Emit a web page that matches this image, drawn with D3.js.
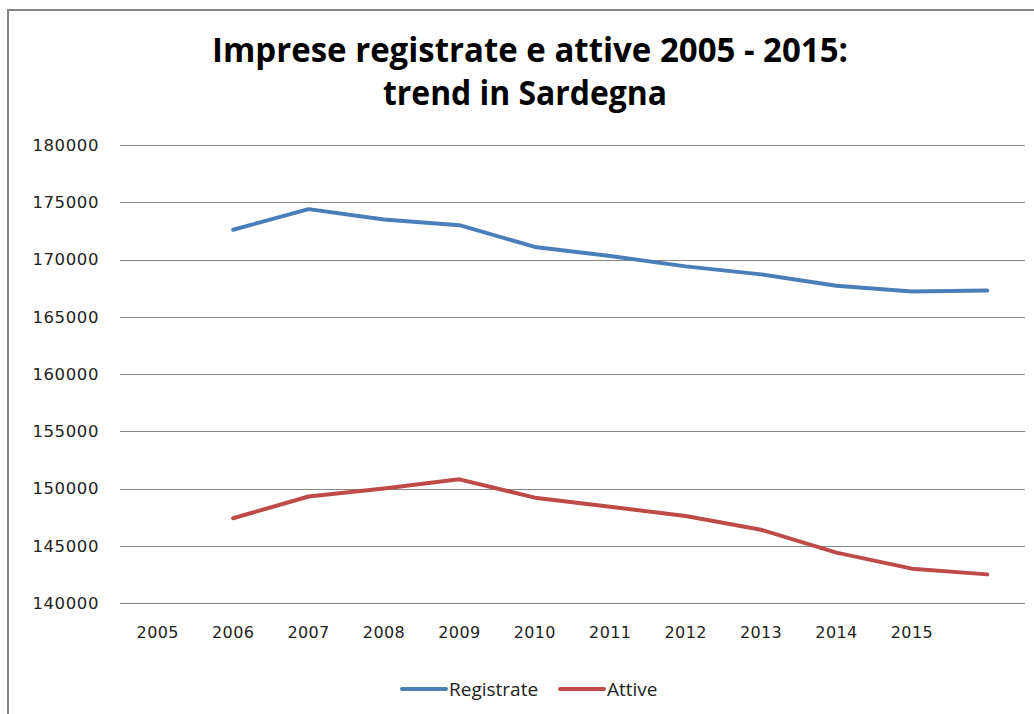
<!DOCTYPE html>
<html lang="it">
<head>
  <meta charset="utf-8">
  <title>Imprese registrate e attive</title>
  <script src="https://d3js.org/d3.v7.min.js"></script>
  <style>
    body { margin: 0; background: #fff; }
  </style>
</head>
<body>
<script>
// categories on the x axis (last slot has no label, as in the original)
var categories = ["2005", "2006", "2007", "2008", "2009", "2010", "2011", "2012", "2013", "2014", "2015", ""];
// the series start at the second slot
var registrate = [null, 172600, 174400, 173500, 173000, 171100, 170300, 169400, 168700, 167700, 167200, 167300];
var attive     = [null, 147400, 149300, 150000, 150800, 149200, 148400, 147600, 146400, 144400, 143000, 142500];
var yTicks = [140000, 145000, 150000, 155000, 160000, 165000, 170000, 175000, 180000];

var svg_width = 1034, svg_height = 714;
var plotLeft = 120, plotRight = 1025, plotTop = 145, plotBottom = 603;

var svg = d3.select("body").append("svg")
  .attr("width", svg_width)
  .attr("height", svg_height);

// frame (only top and left show in the picture)
svg.append("path")
  .attr("d", "M8,714 L8,10 L1034,10")
  .attr("fill", "none")
  .attr("stroke", "#868686")
  .attr("stroke-width", 2);

// title, squeezed to look like the narrow original font
var titleLines = ["Imprese registrate e attive 2005 - 2015:", "trend in Sardegna"];
var titleWidths = [636, 284];
var titleCenters = [530, 525];
svg.selectAll(".title")
  .data(titleLines)
  .enter().append("text")
    .attr("class", "title")
    .attr("x", function(d, i) { return titleCenters[i]; })
    .attr("y", function(d, i) { return 62 + i * 43; })
    .attr("text-anchor", "middle")
    .attr("font-family", "Open Sans, sans-serif")
    .attr("font-weight", "bold")
    .attr("font-size", 34)
    .attr("textLength", function(d, i) { return titleWidths[i]; })
    .attr("lengthAdjust", "spacingAndGlyphs")
    .text(function(d) { return d; });

var xScale = d3.scaleBand()
  .domain(d3.range(categories.length))
  .range([plotLeft, plotRight]);

var yScale = d3.scaleLinear()
  .domain([140000, 180000])
  .range([plotBottom, plotTop]);

// gridlines
svg.append("g")
  .selectAll("line")
  .data(yTicks)
  .enter().append("line")
    .attr("x1", plotLeft).attr("x2", plotRight)
    .attr("y1", function(d) { return Math.round(yScale(d)) + 0.5; })
    .attr("y2", function(d) { return Math.round(yScale(d)) + 0.5; })
    .attr("stroke", "#868686")
    .attr("stroke-width", 1);

// y axis labels
var yAxis = d3.axisLeft(yScale).tickValues(yTicks).tickSize(0).tickPadding(0)
  .tickFormat(d3.format("d"));
var gy = svg.append("g").attr("transform", "translate(99,0)").call(yAxis);
gy.select(".domain").remove();
gy.selectAll("text")
  .attr("font-family", "DejaVu Sans, sans-serif")
  .attr("font-size", 16.5)
  .attr("letter-spacing", 0.6)
  .attr("fill", "#222");

// x axis labels
var xAxis = d3.axisBottom(xScale).tickSize(0).tickPadding(0)
  .tickFormat(function(i) { return categories[i]; });
var gx = svg.append("g").attr("transform", "translate(0,627)").call(xAxis);
gx.select(".domain").remove();
gx.selectAll("text")
  .attr("font-family", "DejaVu Sans, sans-serif")
  .attr("font-size", 16)
  .attr("letter-spacing", 0.4)
  .attr("fill", "#222");

var series = [
  { name: "Registrate", values: registrate, color: "#4A7EBB" },
  { name: "Attive", values: attive, color: "#BE4B48" }
];

var line = d3.line()
  .defined(function(d) { return d != null; })
  .x(function(d, i) { return xScale(i) + xScale.bandwidth() / 2; })
  .y(function(d) { return yScale(d); });

svg.selectAll(".serie")
  .data(series)
  .enter().append("path")
    .attr("class", "serie")
    .attr("d", function(s) { return line(s.values); })
    .attr("fill", "none")
    .attr("stroke", function(s) { return s.color; })
    .attr("stroke-width", 4)
    .attr("stroke-linejoin", "round")
    .attr("stroke-linecap", "round");

// legend
var legendX = [402, 560];
var leg = svg.selectAll(".leg")
  .data(series)
  .enter().append("g")
    .attr("class", "leg")
    .attr("transform", function(s, i) { return "translate(" + legendX[i] + ",689)"; });
leg.append("line")
  .attr("x1", 0).attr("x2", 44)
  .attr("stroke", function(s) { return s.color; })
  .attr("stroke-width", 4)
  .attr("stroke-linecap", "round");
leg.append("text")
  .attr("x", 47).attr("y", 7)
  .attr("font-family", "Open Sans, sans-serif")
  .attr("font-size", 19)
  .attr("fill", "#222")
  .text(function(s) { return s.name; });
</script>
</body>
</html>
